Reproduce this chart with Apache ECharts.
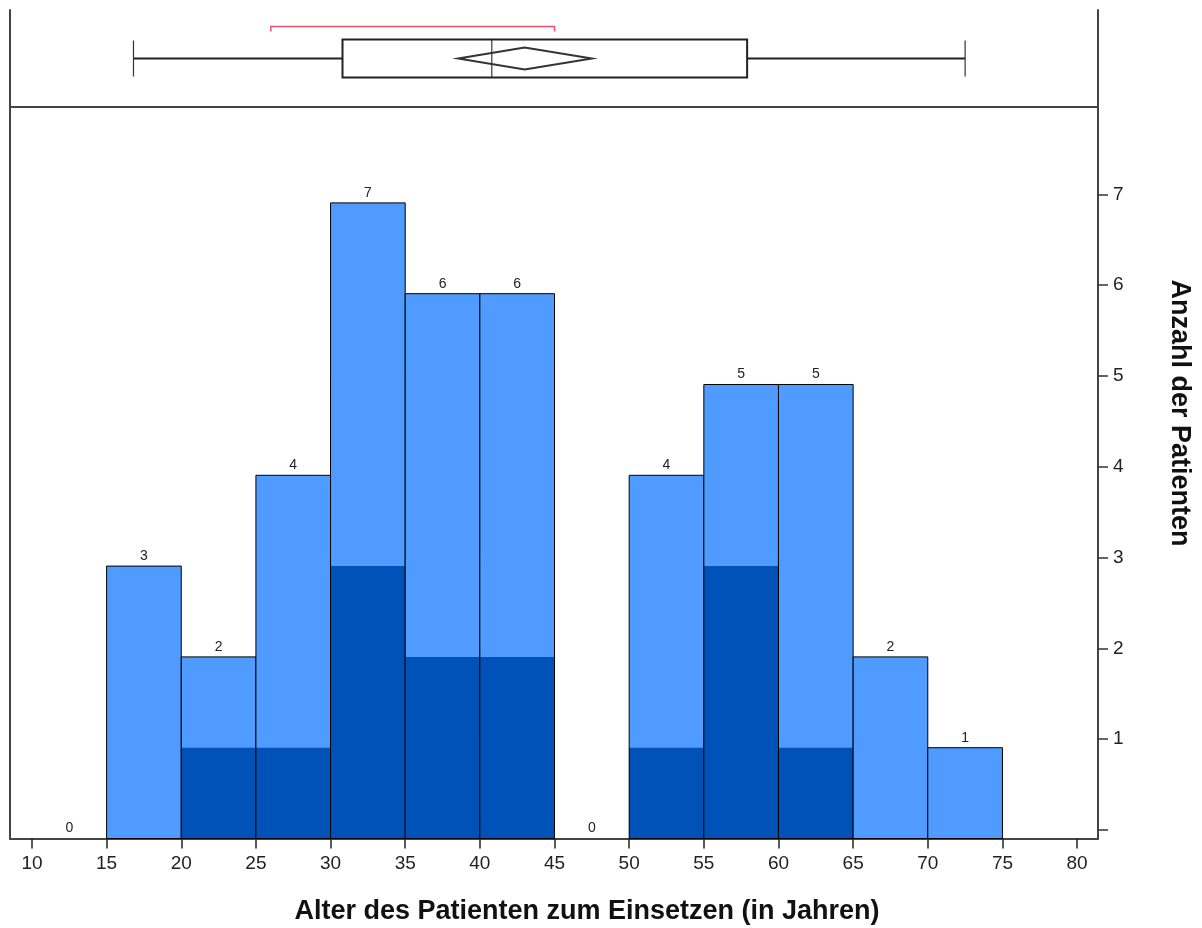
<!DOCTYPE html>
<html lang="de">
<head>
    <meta charset="UTF-8">
    <title>Histogramm Alter</title>
    <script src="https://cdn.jsdelivr.net/npm/echarts@6/dist/echarts.min.js"></script>
</head>
<style>
html,body{margin:0;padding:0;background-color:#ffffff}
#chartBox{width:1202px;height:928px}
</style>
<body>
    <div id="chartBox"></div>
</body>
<script>
// Daten
const binStart = [10, 15, 20, 25, 30, 35, 40, 45, 50, 55, 60, 65, 70];
const binWidth = 5;
const totalCounts = [0, 3, 2, 4, 7, 6, 6, 0, 4, 5, 5, 2, 1];
const darkCounts = [0, 0, 1, 1, 3, 2, 2, 0, 1, 3, 1, 0, 0];
const xTicks = [10, 15, 20, 25, 30, 35, 40, 45, 50, 55, 60, 65, 70, 75, 80];
const yTicks = [0, 1, 2, 3, 4, 5, 6, 7];
const yLabels = [1, 2, 3, 4, 5, 6, 7];
// Boxplot: Whisker unten, Q1, Median, Q3, Whisker oben
const boxStats = [16.8, 30.8, 40.8, 57.9, 72.5];
// Mittelwert mit Konfidenzintervall: unten, Mittel, oben
const meanCI = [38.55, 43.0, 47.5];
// kuerzeste Haelfte
const shortestHalf = [26.0, 45.0];

const FONT = "'Liberation Sans', Arial, sans-serif";
const LIGHT = '#4f9bff';
const DARK = '#0052b8';
const FRAME = '#444444';

function renderBox(params, api) {
    let cy = api.coord([boxStats[0], 0.5])[1];
    let px = v => api.coord([v, 0.5])[0];
    let ls = {stroke: '#222', lineWidth: 2, fill: null};
    let line = (x1, y1, x2, y2, style) => ({type: 'line', shape: {x1, y1, x2, y2}, style: style || ls});
    let children = [
        line(px(boxStats[0]), cy, px(boxStats[1]), cy),
        line(px(boxStats[3]), cy, px(boxStats[4]), cy),
        line(px(boxStats[0]), cy - 18, px(boxStats[0]), cy + 18, {stroke: '#333', lineWidth: 1.2}),
        line(px(boxStats[4]), cy - 18, px(boxStats[4]), cy + 18, {stroke: '#333', lineWidth: 1.2}),
        {type: 'rect', shape: {x: px(boxStats[1]), y: cy - 19, width: px(boxStats[3]) - px(boxStats[1]), height: 38},
            style: {stroke: '#222', lineWidth: 2, fill: '#fff'}},
        line(px(boxStats[2]), cy - 19, px(boxStats[2]), cy + 19, {stroke: '#111', lineWidth: 1}),
        {type: 'polygon', shape: {points: [[px(meanCI[0]), cy], [px(meanCI[1]), cy - 11], [px(meanCI[2]), cy], [px(meanCI[1]), cy + 11]]},
            style: {stroke: '#333', lineWidth: 2, fill: null}},
        {type: 'polyline', shape: {points: [[px(shortestHalf[0]), cy - 27], [px(shortestHalf[0]), cy - 32], [px(shortestHalf[1]), cy - 32], [px(shortestHalf[1]), cy - 27]]},
            style: {stroke: '#f0506e', lineWidth: 1.5, fill: null}}
    ];
    return {type: 'group', children: children};
}

function renderBin(params, api) {
    let x0 = api.value(0), x1 = api.value(1), total = api.value(2), dark = api.value(3);
    let base = api.coord([x0, 0]);
    let top = api.coord([x1, total]);
    let children = [];
    if (total > 0) {
        children.push({type: 'rect', shape: {x: base[0], y: top[1], width: top[0] - base[0], height: base[1] - top[1]},
            style: {fill: LIGHT}});
        if (dark > 0) {
            let dtop = api.coord([x1, dark]);
            children.push({type: 'rect', shape: {x: base[0], y: dtop[1], width: dtop[0] - base[0], height: base[1] - dtop[1]},
                style: {fill: DARK}});
        }
        children.push({type: 'rect', shape: {x: base[0], y: top[1], width: top[0] - base[0], height: base[1] - top[1]},
            style: {fill: null, stroke: '#000', lineWidth: 1}});
    }
    children.push({type: 'text', style: {text: String(total), x: (base[0] + top[0]) / 2, y: top[1] - 3,
        align: 'center', verticalAlign: 'bottom', font: '14px ' + FONT, fill: '#222'}});
    return {type: 'group', children: children};
}

function generateChartOption() {
    let xmin = 8.53, xmax = 81.4;
    let hiddenAxis = {axisTick: {show: false}, axisLabel: {show: false}, splitLine: {show: false}};
    let frameLine = {show: true, lineStyle: {color: FRAME, width: 2}};
    return {
        animation: false,
        grid: [
            {left: 10, right: 104, top: 10, height: 97},
            {left: 10, right: 104, top: 107, bottom: 89.5},
            {left: 10, right: 104, top: 107, bottom: 98}
        ],
        xAxis: [
            Object.assign({type: 'value', gridIndex: 0, min: xmin, max: xmax, axisLine: frameLine}, hiddenAxis),
            {
                type: 'value', gridIndex: 1, min: xmin, max: xmax,
                axisLine: frameLine,
                axisTick: {show: true, customValues: xTicks, length: 10, lineStyle: {color: '#222', width: 1.5}},
                axisLabel: {customValues: xTicks, fontSize: 19, fontFamily: FONT, color: '#222', margin: 16},
                splitLine: {show: false}
            },
            Object.assign({type: 'value', gridIndex: 2, min: xmin, max: xmax, show: false}, hiddenAxis)
        ],
        yAxis: [
            Object.assign({type: 'value', gridIndex: 0, min: 0, max: 1, position: 'left', axisLine: frameLine}, hiddenAxis),
            Object.assign({type: 'value', gridIndex: 0, min: 0, max: 1, position: 'right', axisLine: frameLine}, hiddenAxis),
            Object.assign({type: 'value', gridIndex: 1, min: 0, max: 8.056, position: 'left', axisLine: frameLine}, hiddenAxis),
            Object.assign({type: 'value', gridIndex: 1, min: 0, max: 8.056, position: 'right', axisLine: frameLine}, hiddenAxis),
            {
                type: 'value', gridIndex: 2, min: 0, max: 7.963, position: 'right',
                axisLine: {show: false},
                axisTick: {show: true, customValues: yTicks, length: 10, lineStyle: {color: '#333', width: 1.5}},
                axisLabel: {customValues: yLabels, fontSize: 19, fontFamily: FONT, color: '#222', margin: 15},
                splitLine: {show: false}
            }
        ],
        graphic: [
            {type: 'text', x: 587, y: 912, style: {text: 'Alter des Patienten zum Einsetzen (in Jahren)',
                font: 'bold 27px ' + FONT, fill: '#111', align: 'center', verticalAlign: 'middle'}},
            {type: 'text', x: 1179, y: 413, rotation: -Math.PI / 2, style: {text: 'Anzahl der Patienten',
                font: 'bold 27px ' + FONT, fill: '#111', align: 'center', verticalAlign: 'middle'}}
        ],
        series: [
            {type: 'custom', xAxisIndex: 0, yAxisIndex: 0, data: [boxStats], renderItem: renderBox, silent: true},
            {type: 'custom', xAxisIndex: 1, yAxisIndex: 2, silent: true,
                data: binStart.map((s, i) => [s, s + binWidth, totalCounts[i], darkCounts[i]]),
                renderItem: renderBin}
        ]
    };
}

let chartObj = echarts.init(document.getElementById('chartBox'));
chartObj.setOption(generateChartOption());
</script>
</html>
